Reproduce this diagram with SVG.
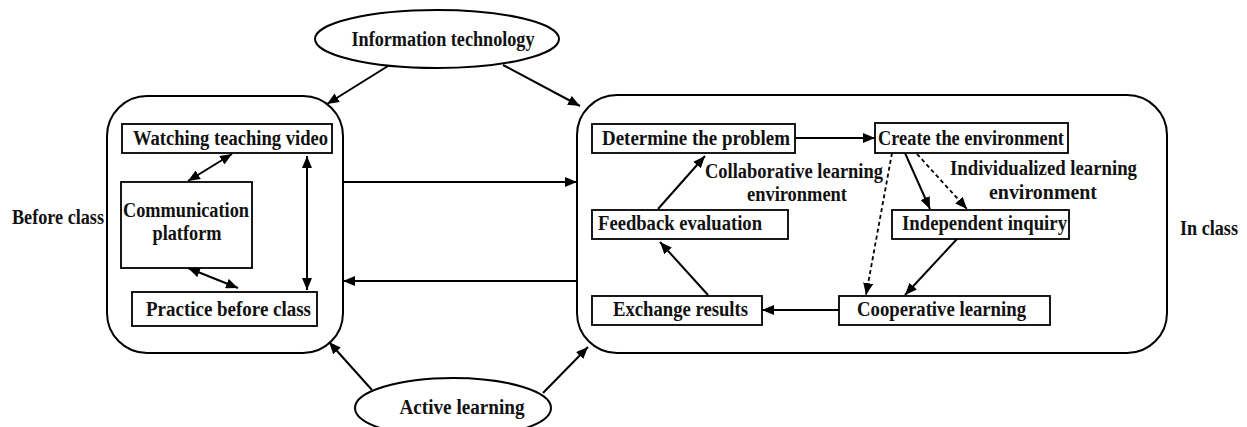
<svg xmlns="http://www.w3.org/2000/svg" width="1247" height="427" viewBox="0 0 1247 427">
<defs>
<marker id="ah" viewBox="0 0 12 10" refX="12" refY="5" markerWidth="12" markerHeight="10" markerUnits="userSpaceOnUse" orient="auto-start-reverse">
<path d="M0,0 L12,5 L0,10 Z" fill="#000"/>
</marker>
<style>
text{font-family:'Liberation Serif','Times New Roman','DejaVu Serif',serif;font-weight:bold;font-size:20px;fill:#111;}
.box{fill:#fff;stroke:#000;stroke-width:1.8;}
.frame{fill:none;stroke:#000;stroke-width:2;}
.ell{fill:#fff;stroke:#000;stroke-width:2;}
.c{fill:none;stroke:#000;stroke-width:2;}
.d{fill:none;stroke:#000;stroke-width:1.8;stroke-dasharray:4,3;}
</style>
</defs>
<rect width="1247" height="427" fill="#fff"/>

<g id="before-frame"><rect class="frame" x="107" y="96" width="236" height="257" rx="40" ry="40"/></g>
<g id="inclass-frame"><rect class="frame" x="577" y="95" width="590" height="258" rx="40" ry="40"/></g>

<g id="connectors">
<line class="c" x1="388" y1="66" x2="327" y2="104" marker-end="url(#ah)"/>
<line class="c" x1="503" y1="65" x2="580" y2="106" marker-end="url(#ah)"/>
<line class="c" x1="372" y1="390" x2="329" y2="342" marker-end="url(#ah)"/>
<line class="c" x1="543" y1="393" x2="588" y2="347" marker-end="url(#ah)"/>
<line class="c" x1="343" y1="182" x2="577" y2="182" marker-end="url(#ah)"/>
<line class="c" x1="577" y1="281" x2="343" y2="281" marker-end="url(#ah)"/>
<line class="c" x1="232" y1="154" x2="188" y2="181" marker-start="url(#ah)" marker-end="url(#ah)"/>
<line class="c" x1="188" y1="268" x2="238" y2="288" marker-start="url(#ah)" marker-end="url(#ah)"/>
<line class="c" x1="307" y1="156" x2="307" y2="290" marker-start="url(#ah)" marker-end="url(#ah)"/>
<line class="c" x1="795" y1="138" x2="875" y2="138" marker-end="url(#ah)"/>
<line class="c" x1="658" y1="209" x2="705" y2="156" marker-end="url(#ah)"/>
<line class="c" x1="708" y1="295" x2="660" y2="242" marker-end="url(#ah)"/>
<line class="c" x1="839" y1="310" x2="762" y2="310" marker-end="url(#ah)"/>
<line class="c" x1="957" y1="239" x2="905" y2="295" marker-end="url(#ah)"/>
<line class="c" x1="905" y1="153" x2="930" y2="209" marker-end="url(#ah)"/>
<line class="d" x1="917" y1="154" x2="967" y2="209" marker-end="url(#ah)"/>
<line class="d" x1="892" y1="153" x2="866" y2="295" marker-end="url(#ah)"/>
</g>

<g id="info-tech">
<ellipse class="ell" cx="437" cy="39" rx="122" ry="29"/>
<text x="443" y="46" text-anchor="middle" textLength="183" lengthAdjust="spacingAndGlyphs">Information technology</text>
</g>
<g id="active-learning">
<ellipse class="ell" cx="453" cy="408" rx="98" ry="30"/>
<text x="462" y="414" text-anchor="middle" textLength="125" lengthAdjust="spacingAndGlyphs">Active learning</text>
</g>

<g id="label-before"><text x="12" y="224" textLength="92" lengthAdjust="spacingAndGlyphs">Before class</text></g>
<g id="label-in"><text x="1180" y="235" textLength="58" lengthAdjust="spacingAndGlyphs">In class</text></g>

<g id="watching">
<rect class="box" x="122" y="124" width="210" height="29"/>
<text x="133" y="145" textLength="195" lengthAdjust="spacingAndGlyphs">Watching teaching video</text>
</g>
<g id="communication">
<rect class="box" x="121" y="182" width="131" height="86"/>
<text x="186" y="217" text-anchor="middle" textLength="126" lengthAdjust="spacingAndGlyphs">Communication</text>
<text x="187" y="240" text-anchor="middle" textLength="69" lengthAdjust="spacingAndGlyphs">platform</text>
</g>
<g id="practice">
<rect class="box" x="132" y="292" width="185" height="34"/>
<text x="146" y="316" textLength="165" lengthAdjust="spacingAndGlyphs">Practice before class</text>
</g>

<g id="determine">
<rect class="box" x="592" y="124" width="203" height="29"/>
<text x="602" y="145" textLength="188" lengthAdjust="spacingAndGlyphs">Determine the problem</text>
</g>
<g id="create">
<rect class="box" x="875" y="123" width="193" height="30"/>
<text x="878" y="145" textLength="186" lengthAdjust="spacingAndGlyphs">Create the environment</text>
</g>
<g id="feedback">
<rect class="box" x="592" y="210" width="196" height="29"/>
<text x="598" y="230" textLength="164" lengthAdjust="spacingAndGlyphs">Feedback evaluation</text>
</g>
<g id="independent">
<rect class="box" x="892" y="210" width="177" height="29"/>
<text x="902" y="230" textLength="165" lengthAdjust="spacingAndGlyphs">Independent inquiry</text>
</g>
<g id="exchange">
<rect class="box" x="592" y="296" width="170" height="29"/>
<text x="613" y="316" textLength="135" lengthAdjust="spacingAndGlyphs">Exchange results</text>
</g>
<g id="cooperative">
<rect class="box" x="839" y="296" width="211" height="29"/>
<text x="857" y="316" textLength="169" lengthAdjust="spacingAndGlyphs">Cooperative learning</text>
</g>

<g id="label-collab">
<text x="705" y="178" textLength="178" lengthAdjust="spacingAndGlyphs">Collaborative learning</text>
<text x="797" y="201" text-anchor="middle" textLength="100" lengthAdjust="spacingAndGlyphs">environment</text>
</g>
<g id="label-indiv">
<text x="950" y="175" textLength="187" lengthAdjust="spacingAndGlyphs">Individualized learning</text>
<text x="1043" y="199" text-anchor="middle" textLength="108" lengthAdjust="spacingAndGlyphs">environment</text>
</g>
</svg>
